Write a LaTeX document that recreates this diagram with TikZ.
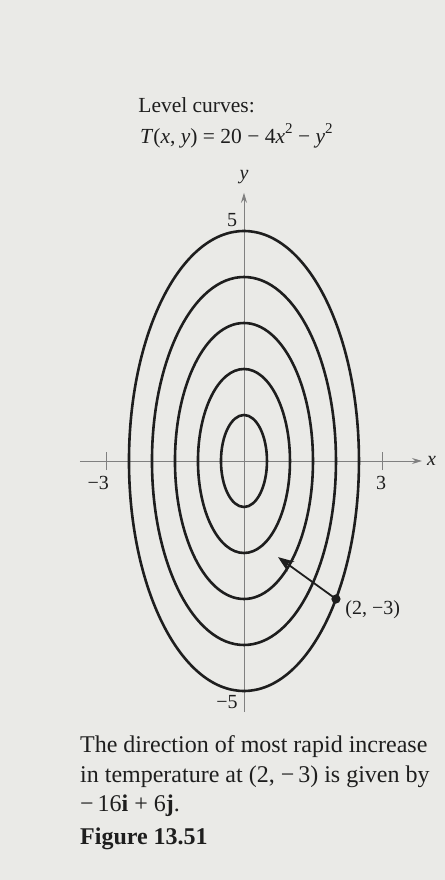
\documentclass[tikz,border=0pt]{standalone}
\usepackage{fontspec}
\setmainfont{Liberation Serif}
\usepackage{tikz}
\usetikzlibrary{arrows.meta,positioning,calc}

\definecolor{paper}{RGB}{234,234,231}
\definecolor{ink}{RGB}{30,30,30}
\tikzset{
  curve/.style={line width=2.6pt, ink},
  axis/.style={line width=0.9pt, black!50},
  axislabel/.style={inner sep=0pt, text=ink, font=\fontsize{20}{24}\selectfont},
  titletext/.style={anchor=base west, inner sep=0pt, text=ink, font=\fontsize{21.5}{26}\selectfont},
  captext/.style={anchor=base west, inner sep=0pt, text=ink, font=\fontsize{24}{30}\selectfont},
}

\begin{document}
\begin{tikzpicture}[x=46pt,y=46pt]
  \fill[paper] (-5.304,-9.109) rectangle (4.370,10.022);
  \useasboundingbox (-5.304,-9.109) rectangle (4.370,10.022);

  % title
  \node[titletext] (lvl) at (-2.30,7.57) {Level curves:};
  \node[titletext] (Teq) at (-2.26,6.91) {\textit{T}(\textit{x}, \textit{y}) = 20 − 4\textit{x}\raisebox{0.45em}{\fontsize{15}{18}\selectfont 2} − \textit{y}\raisebox{0.45em}{\fontsize{15}{18}\selectfont 2}};

  % axes
  \coordinate (xl) at (-3.57,0);
  \coordinate (xr) at (3.87,0);
  \coordinate (yb) at (0,-5.46);
  \coordinate (yt) at (0,5.83);
  \draw[axis,-{Stealth[length=10pt,width=6pt]}] (xl) -- (xr);
  \draw[axis,-{Stealth[length=10pt,width=6pt]}] (yb) -- (yt);
  \node[axislabel, right=5pt of xr] (xlab) {\textit{x}};
  \node[axislabel, above=9pt of yt] (ylab) {\textit{y}};
  \foreach \t in {-3,3} {
    \draw[axis] (\t,-0.2) -- (\t,0.2);
  }
  \node[axislabel] (xm3) at (-3.17,-0.48) {−3};
  \node[axislabel] (xp3) at (2.98,-0.48) {3};
  \node[axislabel] (yp5) at (-0.26,5.24) {5};
  \node[axislabel] (ym5) at (-0.37,-5.24) {−5};

  % level curves
  \foreach \b in {1,...,5} {
    \draw[curve] (0,0) ellipse ({\b/2} and \b);
  }

  % gradient at (2,-3)
  \coordinate (P) at (2,-3);
  \coordinate (G) at (0.74,-2.09);
  \draw[line width=1.8pt, ink, -{Stealth[length=16pt,width=12pt]}] (P) -- (G);
  \fill[ink] (P) circle (0.1);
  \node[axislabel, anchor=west] (Plab) at (2.2,-3.24) {(2, −3)};

  % caption
  \node[captext] (cap1) at (-3.565,-6.33) {The direction of most rapid increase};
  \node[captext] (cap2) at (-3.565,-6.98) {in temperature at (2, −\,3) is given by};
  \node[captext] (cap3) at (-3.565,-7.63) {−\,16\textbf{i} + 6\textbf{j}.};
  \node[captext] (figlab) at (-3.565,-8.33) {\textbf{Figure 13.51}};
\end{tikzpicture}
\end{document}
